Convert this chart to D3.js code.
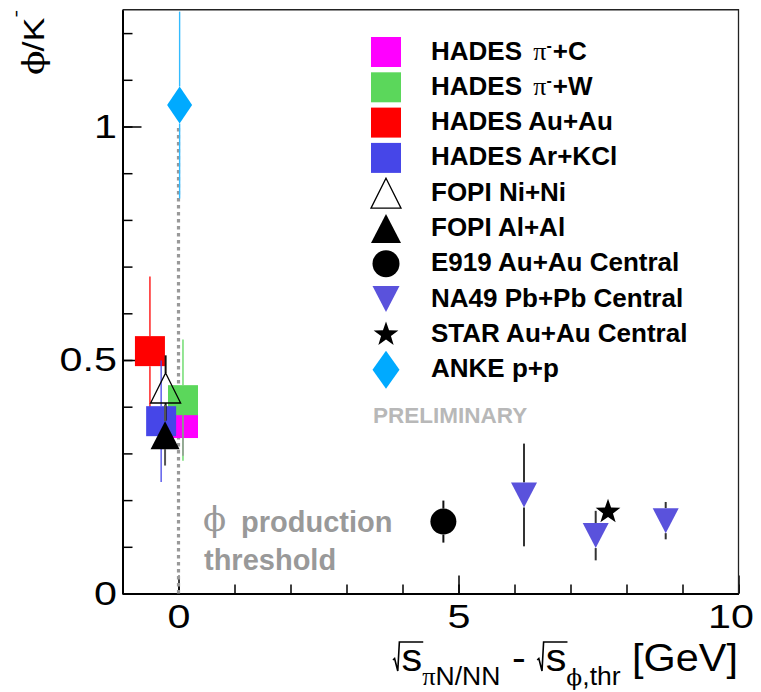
<!DOCTYPE html>
<html>
<head>
<meta charset="utf-8">
<script src="https://cdn.jsdelivr.net/npm/d3@7"></script>
<style>
  html, body { margin: 0; padding: 0; background: #fff; }
  svg { display: block; }
</style>
</head>
<body>
<svg id="chart" width="761" height="692"></svg>
<script>
// φ/K⁻ ratio versus excess energy above the φ production threshold.
// Each point: [√s − √s_thr (GeV), φ/K⁻, error]
const hadesPiC   = [[0.08, 0.365, 0.07]];
const hadesPiW   = [[0.08, 0.414, 0.13]];
const hadesAuAu  = [[-0.51, 0.519, 0.16]];
const hadesArKCl = [[-0.31, 0.369, 0.13]];
const fopiNiNi   = [[-0.23, 0.44, 0.07]];
const fopiAlAl   = [[-0.24, 0.339, 0.065]];
const e919AuAu   = [[4.73, 0.154, 0.045]];
const na49PbPb   = [[6.17, 0.211, 0.11], [7.45, 0.124, 0.053], [8.70, 0.156, 0.04]];
const starAuAu   = [[7.67, 0.175, 0.01]];
const ankePP     = [[0.02, 1.046, 0.2]];

const legendLabels = [
  "HADES π-+C", "HADES π-+W", "HADES Au+Au", "HADES Ar+KCl",
  "FOPI Ni+Ni", "FOPI Al+Al", "E919 Au+Au Central",
  "NA49 Pb+Pb Central", "STAR Au+Au Central", "ANKE p+p"
];

const xDomain = [-1, 10];
const yDomain = [0, 1.25];
const xMajorTicks = [0, 5, 10];
const xTickLabels = ["0", "5", "10"];
const xMinorTicks = d3.range(0, 11, 1);
const yMajorTicks = [0, 0.5, 1];
const yTickLabels = ["0", "0.5", "1"];
const yMinorTicks = d3.range(0, 13).map(i => i / 10);
const thresholdLine = [[0, 0], [0, 1]];

const PHI = "\u03D5";   // stroked phi glyph
const sansFont = "Liberation Sans, Arial, Helvetica, sans-serif";
const greekFont = "DejaVu Serif, Liberation Serif, serif";

// ---------------------------------------------------------------
const svg = d3.select("#chart");
svg.append("rect").attr("width", 761).attr("height", 692).attr("fill", "#fff");

const frame = { left: 122.5, right: 738.5, top: 9.75, bottom: 593.5 };
const x = d3.scaleLinear().domain(xDomain).range([frame.left, frame.right]);
const y = d3.scaleLinear().domain(yDomain).range([frame.bottom, frame.top]);

// marker outlines centred on (0,0)
const shapes = {
  square: (w, h) => `M${-w / 2},${-h / 2}h${w}v${h}h${-w}Z`,
  triUp: (w, h) => `M0,${-h / 2}L${w / 2},${h / 2}L${-w / 2},${h / 2}Z`,
  triDown: (w, h) => `M0,${h / 2}L${w / 2},${-h / 2}L${-w / 2},${-h / 2}Z`,
  diamond: (w, h) => `M0,${-h / 2}L${w / 2},0L0,${h / 2}L${-w / 2},0Z`,
  circle: (w) => { const r = w / 2; return `M${-r},0A${r},${r} 0 1,0 ${r},0A${r},${r} 0 1,0 ${-r},0Z`; },
  star: (w) => {
    const R = w / 2, r = R * 0.4;
    const pts = d3.range(10).map(i => {
      const a = -Math.PI / 2 + i * Math.PI / 5, rr = i % 2 ? r : R;
      return [rr * Math.cos(a), rr * Math.sin(a)];
    });
    return "M" + pts.map(p => p.join(",")).join("L") + "Z";
  }
};

const series = [
  { data: hadesPiC,   shape: "square",  size: [30, 30], legSize: [30, 30], fill: "#ff00ff", errColor: "#ff00ff", errW: 1.3 },
  { data: hadesPiW,   shape: "square",  size: [30, 30], legSize: [30, 30], fill: "#5bd75b", errColor: "#5bd75b", errW: 1.3 },
  { data: hadesAuAu,  shape: "square",  size: [30, 30], legSize: [30, 30], fill: "#ff0000", errColor: "#ff0000", errW: 1.3 },
  { data: hadesArKCl, shape: "square",  size: [30, 30], legSize: [30, 30], fill: "#4646e8", errColor: "#4646e8", errW: 1.3 },
  { data: fopiNiNi,   shape: "triUp",   size: [30, 30], legSize: [30, 30], fill: "none", stroke: "#000", errColor: "#111", errW: 2 },
  { data: fopiAlAl,   shape: "triUp",   size: [29, 28], legSize: [30, 29], fill: "#000", errColor: "#555", errW: 2 },
  { data: e919AuAu,   shape: "circle",  size: [26, 26], legSize: [27, 27], fill: "#000", errColor: "#111", errW: 2 },
  { data: na49PbPb,   shape: "triDown", size: [26, 25], legSize: [27, 26], fill: "#5a52dc", errColor: "#333", errW: 2 },
  { data: starAuAu,   shape: "star",    size: [26, 26], legSize: [26, 26], fill: "#000", errColor: "#000", errW: 1.5 },
  { data: ankePP,     shape: "diamond", size: [25, 37], legSize: [27, 38], fill: "#00aaff", errColor: "#33bbff", errW: 1.4 }
];

// ---------------- axes ----------------
const axisG = svg.append("g");
const labelScaleX = 1.25;

const yAxisMinor = d3.axisLeft(y).tickValues(yMinorTicks).tickSize(-10).tickSizeOuter(0).tickFormat("");
const yAxisMajor = d3.axisLeft(y).tickValues(yMajorTicks).tickSize(-19).tickSizeOuter(0).tickPadding(4.5)
  .tickFormat((d, i) => yTickLabels[i]);
const xAxisMinor = d3.axisBottom(x).tickValues(xMinorTicks).tickSize(-9).tickSizeOuter(0).tickFormat("");
const xAxisMajor = d3.axisBottom(x).tickValues(xMajorTicks).tickSize(-18).tickSizeOuter(0).tickPadding(11)
  .tickFormat((d, i) => xTickLabels[i]);

function styleAxis(g) {
  g.select(".domain").attr("stroke", "#000").attr("stroke-width", 2);
  g.selectAll(".tick line").attr("stroke", "#000").attr("stroke-width", 1.5);
  g.selectAll(".tick text")
    .attr("font-family", sansFont)
    .attr("font-size", 33)
    .attr("fill", "#000")
    .attr("transform", `scale(${labelScaleX},1)`);
}

axisG.append("g").attr("transform", `translate(${frame.left},0)`).call(yAxisMinor).call(styleAxis);
axisG.append("g").attr("transform", `translate(${frame.left},0)`).call(yAxisMajor).call(styleAxis);
axisG.append("g").attr("transform", `translate(0,${frame.bottom})`).call(xAxisMinor).call(styleAxis);
const xMajG = axisG.append("g").attr("transform", `translate(0,${frame.bottom})`).call(xAxisMajor).call(styleAxis);
// keep the last label inside the canvas
xMajG.selectAll(".tick text").filter(d => d === xDomain[1])
  .attr("transform", `translate(-8,0) scale(${labelScaleX},1)`);

// frame top and right
svg.append("path")
  .attr("d", `M${frame.left},${frame.top}H${frame.right}V${frame.bottom}`)
  .attr("fill", "none").attr("stroke", "#222").attr("stroke-width", 1.3);

// ---------------- threshold line ----------------
svg.append("path")
  .attr("d", d3.line().x(d => x(d[0])).y(d => y(d[1]))(thresholdLine))
  .attr("stroke", "#999").attr("stroke-width", 3.2).attr("stroke-dasharray", "3.5,3.5").attr("fill", "none");

// ---------------- data ----------------
const plot = svg.append("g");
series.forEach(s => {
  const g = plot.append("g");
  const half = s.size[1] / 2;
  s.data.forEach(p => {
    const cx = x(p[0]), cy = y(p[1]);
    const yt = y(p[1] + p[2]), yb = y(p[1] - p[2]);
    // error bars stop at the marker edge
    if (yt < cy - half)
      g.append("line").attr("x1", cx).attr("x2", cx).attr("y1", yt).attr("y2", cy - half)
        .attr("stroke", s.errColor).attr("stroke-width", s.errW);
    if (yb > cy + half)
      g.append("line").attr("x1", cx).attr("x2", cx).attr("y1", cy + half).attr("y2", yb)
        .attr("stroke", s.errColor).attr("stroke-width", s.errW);
  });
  g.selectAll("path.mk").data(s.data).join("path").attr("class", "mk")
    .attr("d", shapes[s.shape](s.size[0], s.size[1]))
    .attr("transform", d => `translate(${x(d[0])},${y(d[1])})`)
    .attr("fill", s.fill)
    .attr("stroke", s.stroke || "none")
    .attr("stroke-width", s.stroke ? 1.3 : 0);
});

// ---------------- legend ----------------
const legend = svg.append("g");
const legX = 386, legTextX = 431, legY0 = 52, legDY = 35.3;
series.forEach((s, i) => {
  const cy = legY0 + i * legDY;
  legend.append("path")
    .attr("d", shapes[s.shape](s.legSize[0], s.legSize[1]))
    .attr("transform", `translate(${legX},${cy})`)
    .attr("fill", s.fill)
    .attr("stroke", s.stroke || "none")
    .attr("stroke-width", s.stroke ? 1.3 : 0);
  const t = legend.append("text")
    .attr("x", legTextX).attr("y", cy + 7.5)
    .attr("font-family", sansFont)
    .attr("font-weight", "bold").attr("font-size", 26).attr("fill", "#000");
  const lab = legendLabels[i];
  const k = lab.indexOf("π-");
  if (k >= 0) {
    t.append("tspan").text(lab.slice(0, k));
    t.append("tspan").attr("dx", 4).attr("font-family", "Liberation Serif, serif")
      .attr("font-weight", "normal").text("π");
    t.append("tspan").attr("font-size", 16).attr("dy", -9).text("-");
    t.append("tspan").attr("dy", 9).attr("dx", 1).text(lab.slice(k + 2));
  } else {
    t.text(lab);
  }
});

// ---------------- annotations ----------------
svg.append("text").attr("x", 373).attr("y", 423)
  .attr("font-family", sansFont).attr("font-weight", "bold")
  .attr("font-size", 22.5).attr("fill", "#b8b8b8").text("PRELIMINARY");

const thr = svg.append("g").attr("fill", "#999");
thr.append("text").attr("x", 203).attr("y", 531)
  .attr("font-family", greekFont).attr("font-size", 34).text(PHI);
thr.append("text").attr("x", 241).attr("y", 532)
  .attr("font-family", sansFont).attr("font-weight", "bold")
  .attr("font-size", 29).text("production");
thr.append("text").attr("x", 204).attr("y", 570)
  .attr("font-family", sansFont).attr("font-weight", "bold")
  .attr("font-size", 29).text("threshold");

// ---------------- axis titles ----------------
// x title: √s_{πN/NN} - √s_{φ,thr} [GeV]
const xTitleG = svg.append("g");
const xt = xTitleG.append("text").attr("x", 0).attr("y", 0)
  .attr("font-family", sansFont).attr("font-size", 39).attr("fill", "#000");
const s1 = xt.append("tspan").attr("dx", 8).text("s");
xt.append("tspan").attr("font-family", "Liberation Serif, serif").attr("font-size", 25).attr("dy", 14).text("π");
xt.append("tspan").attr("font-size", 25).text("N/NN");
xt.append("tspan").attr("dy", -14).text(" - ");
const s2 = xt.append("tspan").attr("dx", 8).text("s");
xt.append("tspan").attr("font-family", greekFont).attr("font-size", 22).attr("dy", 14).text(PHI);
xt.append("tspan").attr("font-size", 25).text(",thr");
xt.append("tspan").attr("dy", -14).text(" [GeV]");

function radical(ts) {
  const e = ts.node().getExtentOfChar(0);
  const x0 = e.x - 2, top = -29, x1 = e.x + e.width + 1;
  return `M${x0 - 6},-11L${x0 - 4.5},-12.5L${x0 - 1.5},0L${x0},${top}H${x1}`;
}
xTitleG.append("path").attr("d", radical(s1) + radical(s2))
  .attr("fill", "none").attr("stroke", "#000").attr("stroke-width", 1.5);
const xbb = xt.node().getBBox();
const xTitleLeft = 393, xTitleRight = 738, xTitleBase = 671;
const xk = (xTitleRight - xTitleLeft) / (xbb.x + xbb.width);
xTitleG.attr("transform", `translate(${xTitleLeft},${xTitleBase}) scale(${xk},1)`);

// y title: φ/K⁻ rotated, ending at the top of the frame
const yTitleG = svg.append("g").attr("transform", "translate(44,10) rotate(-90) scale(1.2,1)");
const yt = yTitleG.append("text").attr("x", 0).attr("y", 0).attr("text-anchor", "end")
  .attr("font-family", sansFont).attr("font-size", 30).attr("fill", "#000");
yt.append("tspan").attr("font-family", greekFont).attr("font-size", 30).text(PHI);
yt.append("tspan").attr("dx", -1).text("/K");
yt.append("tspan").attr("font-size", 19).attr("dy", -22).text("-");
</script>
</body>
</html>
